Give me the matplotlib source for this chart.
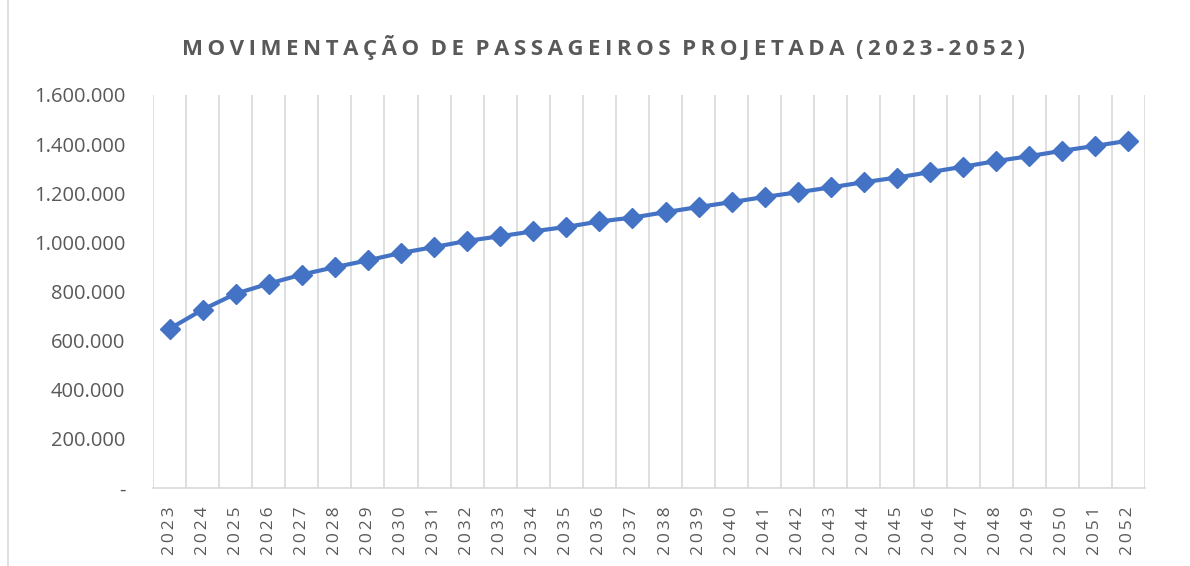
import matplotlib
matplotlib.use("Agg")
import matplotlib.pyplot as plt
from matplotlib.ticker import FuncFormatter, MultipleLocator
from matplotlib.lines import Line2D

anos = list(range(2023, 2053))
passageiros = [648000, 726000, 791000, 832000, 869000, 899000, 927000, 957000,
               981000, 1006000, 1025000, 1045000, 1063000, 1085000, 1101000,
               1123000, 1144000, 1164000, 1185000, 1204000, 1224000, 1245000,
               1264000, 1286000, 1308000, 1331000, 1351000, 1373000, 1393000,
               1414000]
titulo = "MOVIMENTAÇÃO DE PASSAGEIROS PROJETADA (2023-2052)"

plt.rcParams['font.family'] = ['Open Sans', 'DejaVu Sans']

fig = plt.figure(figsize=(11.9, 5.66), dpi=100)
ax = fig.add_axes([153/1190, 1-488/566, (1145-153)/1190, (488-95)/566])

x = list(range(len(anos)))
ax.plot(x, passageiros, color='#4472C4', lw=3, marker='D', ms=10,
        markeredgecolor='#4472C4', zorder=3)

ax.set_xlim(-0.5, len(anos) - 0.5)
ax.set_ylim(0, 1600000)
ax.yaxis.set_major_locator(MultipleLocator(200000))

def fmt(v, pos):
    if v == 0:
        return '-'
    return f"{int(v):,}".replace(',', '.')
ax.yaxis.set_major_formatter(FuncFormatter(fmt))

ax.set_xticks(x)
ax.set_xticklabels(['\u2009'.join(str(a)) for a in anos], rotation=90)
ax.set_xticks([i - 0.5 for i in range(len(anos) + 1)], minor=True)
ax.grid(True, which='minor', axis='x', color='#D9D9D9', lw=1.2)
ax.tick_params(axis='x', which='both', length=0, pad=13, labelsize=12.5, labelcolor='#595959')
ax.tick_params(axis='y', length=0, pad=20, labelsize=14.5, labelcolor='#595959')

for s in ['top', 'right', 'left']:
    ax.spines[s].set_visible(False)
ax.spines['bottom'].set_color('#D9D9D9')
ax.spines['bottom'].set_linewidth(1.2)

fig.text(0.507, 1-47/566, '\u2009'.join(titulo).replace('\u2009 \u2009', '  '),
         ha='center', va='center', fontsize=16, fontweight='bold', color='#595959')

fig.add_artist(Line2D([8/1190, 8/1190], [0, 1], color='#D9D9D9', lw=1.2,
                      transform=fig.transFigure))

fig.savefig('out.png', dpi=100)
